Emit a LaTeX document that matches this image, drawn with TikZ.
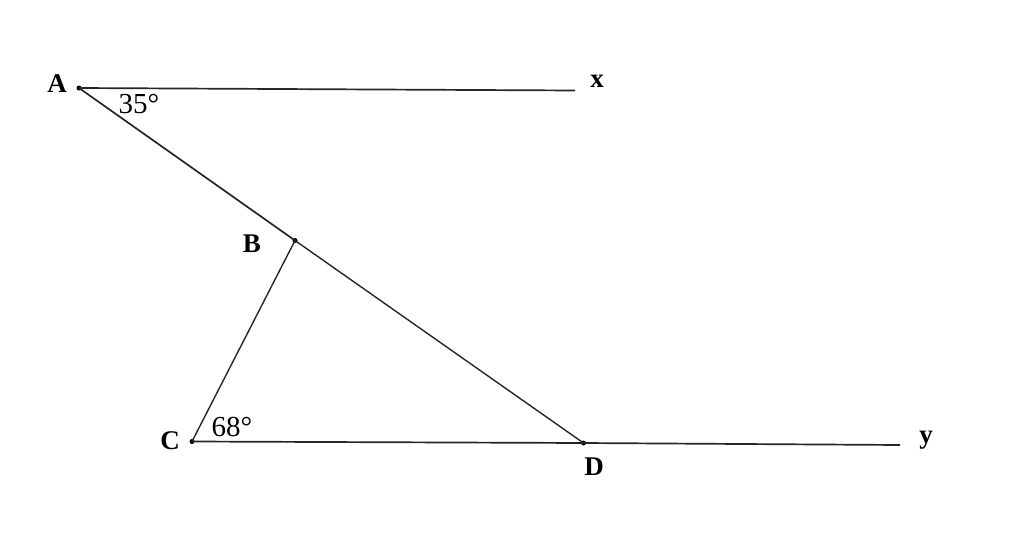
\documentclass[tikz,border=0pt]{standalone}
\usepackage{fontspec}
\setmainfont{Liberation Serif}
\begin{document}
\begin{tikzpicture}[x=1pt,y=-1pt,
  seg/.style={line width=1.7pt, draw=black!85},
  pt/.style={circle, fill=black, inner sep=0pt, minimum size=5pt},
  lbl/.style={font=\fontsize{27}{29}\selectfont\bfseries, inner sep=0pt},
  ang/.style={font=\fontsize{29}{31}\selectfont, inner sep=0pt}]
\useasboundingbox (0,0) rectangle (1028,538);
\node[pt] (A) at (79,88) {};
\node[pt] (B) at (295,240.5) {};
\node[pt] (C) at (192,441.5) {};
\node[pt] (D) at (583.5,443) {};
\coordinate (X) at (575,90.5);
\coordinate (Y) at (900,445);
\draw[seg] (A.center) -- (X);
\draw[seg] (A.center) -- (B.center);
\draw[seg, line width=1.4pt] (B.center) -- (D.center);
\draw[seg, line width=1.4pt] (B.center) -- (C.center);
\draw[seg] (C.center) -- (D.center);
\draw[seg] (D.center) -- (Y);
\node[lbl] (lA) at (57,84) {A};
\node[lbl] (lx) at (597,81) {x};
\node[lbl] (lB) at (252,244) {B};
\node[lbl] (lC) at (170,441) {C};
\node[lbl] (lD) at (594,467) {D};
\node[lbl] (ly) at (926,440) {y};
\node[ang] (a35) at (139,104) {35°};
\node[ang] (a68) at (232,427) {68°};
\end{tikzpicture}
\end{document}
